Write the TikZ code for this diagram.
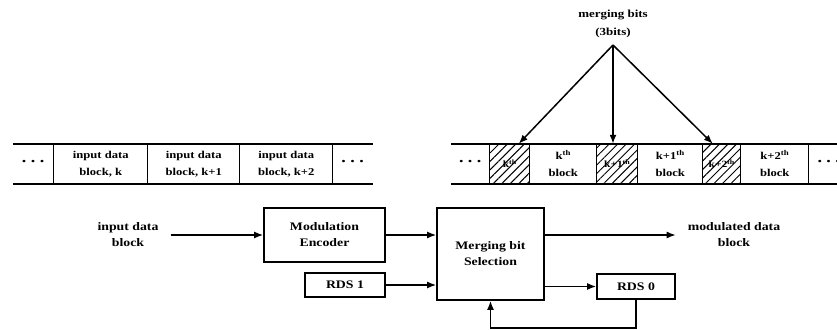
\documentclass[tikz,border=0pt]{standalone}
\usepackage{fontspec}
\setmainfont[FakeStretch=1.2]{Liberation Serif}
\usetikzlibrary{arrows.meta,patterns.meta}
\newcommand{\stripdots}{{\fontsize{15}{15}\selectfont ·\hspace{3pt}·\hspace{3pt}·}}

\begin{document}
\begin{tikzpicture}[x=1pt,y=-1pt,line width=1.5pt,
  cell/.style={anchor=center,minimum height=40pt,inner sep=0pt,outer sep=0pt,align=center,font=\fontsize{10.5}{17}\selectfont\bfseries},
  hatch/.style={pattern={Lines[angle=45,distance=6pt,line width=1pt]},font=\fontsize{9.5}{10}\selectfont\bfseries},
  box/.style={draw,line width=1.7pt,align=center,inner sep=0pt,font=\fontsize{11.5}{16}\selectfont\bfseries},
  lbl/.style={align=center,font=\fontsize{11.5}{16}\selectfont\bfseries},
  arr/.style={-{Latex[length=9pt,width=7pt]}}]
\useasboundingbox (0,0) rectangle (837,329);

% input blocks
\node [matrix,ampersand replacement=\&,anchor=north west,inner sep=0pt,nodes={cell}] (lstrip) at (12,143)
    {
\node[minimum width=41pt] (l1) {\stripdots}; \& \node[minimum width=94pt] (l2) {input data\\block, k}; \& \node[minimum width=92pt] (l3) {input data\\block, k+1}; \& \node[minimum width=93pt] (l4) {input data\\block, k+2}; \& \node[minimum width=40pt] (l5) {\stripdots}; \\
    };
\draw[line width=1.8pt] (l1.north west) -- (l5.north east) (l1.south west) -- (l5.south east);
\foreach \c in {l1,l2,l3,l4} \draw[line width=1.3pt] (\c.north east) -- (\c.south east);

% output blocks with merging bits
\node [matrix,ampersand replacement=\&,anchor=north west,inner sep=0pt,nodes={cell}] (rstrip) at (450,143)
    {
\node[minimum width=39pt] (r1) {\stripdots}; \& \node[hatch,minimum width=40pt] (r2) {k\textsuperscript{th}}; \& \node[minimum width=67pt] (r3) {k\textsuperscript{th}\\block}; \& \node[hatch,minimum width=41pt] (r4) {k+1\textsuperscript{th}}; \& \node[minimum width=65pt] (r5) {k+1\textsuperscript{th}\\block}; \& \node[hatch,minimum width=38pt] (r6) {k+2\textsuperscript{th}}; \& \node[minimum width=68pt] (r7) {k+2\textsuperscript{th}\\block}; \& \node[minimum width=40pt] (r8) {\stripdots}; \\
    };
\draw[line width=1.8pt] (r1.north west) -- (r8.north east) (r1.south west) -- (r8.south east);
\foreach \c in {r1,r2,r3,r4,r5,r6,r7} \draw[line width=1.3pt] (\c.north east) -- (\c.south east);

\node[align=center,font=\fontsize{10.8}{18}\selectfont\bfseries] (mb) at (613,24) {merging bits\\(3bits)};
\coordinate (apex) at (613,45);
\draw[arr] (apex) -- ([xshift=9pt]r2.north);
\draw[arr] (apex) -- (apex |- r4.north);
\draw[arr] (apex) -- ([xshift=-9pt]r6.north);

% encoder
\node[lbl] (inp) at (128,235) {input data\\block};
\node[box,minimum width=121pt,minimum height=54pt] (enc) at (324.5,235) {Modulation\\Encoder};
\node[box,minimum width=107pt,minimum height=92pt] (sel) at (490.5,254) {Merging bit\\Selection};
\node[box,minimum width=80pt,minimum height=24pt] (rds1) at (345,285) {RDS 1};
\node[box,minimum width=78pt,minimum height=25pt] (rds0) at (636,286.5) {RDS 0};
\node[lbl] (outp) at (734,235) {modulated data\\block};

\draw[arr,shorten <=8pt] (inp) -- (enc);
\draw[arr] (enc.east) -- (enc.east -| sel.west);
\draw[arr,shorten >=8pt] (sel.east |- outp) -- (outp.west);
\draw[arr] (rds1.east) -- (rds1.east -| sel.west);
\draw[arr] (sel.east |- rds0) -- (rds0.west);
\draw[arr] (rds0.south) -- ++(0,28) -| (sel.south);
\end{tikzpicture}
\end{document}
